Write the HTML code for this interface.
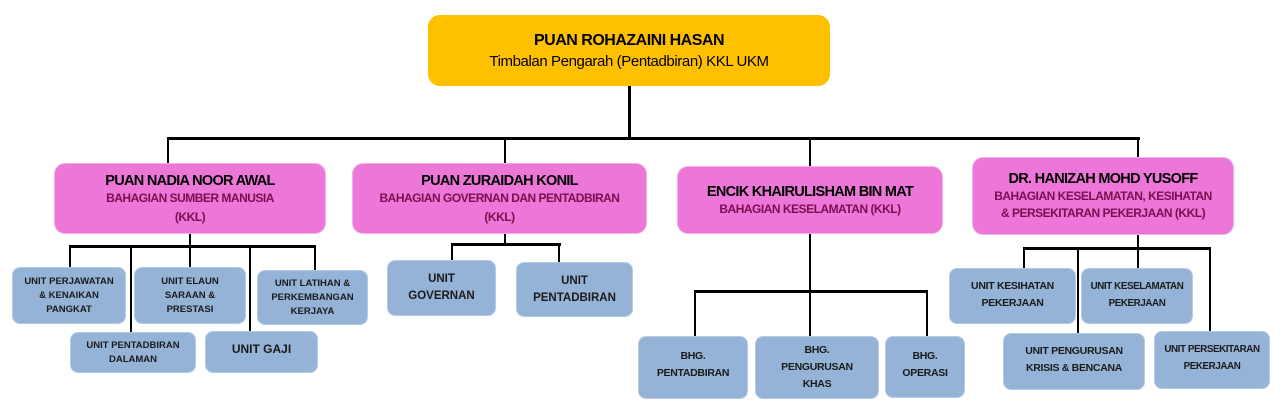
<!DOCTYPE html>
<html><head><meta charset="utf-8"><style>
body{margin:0;width:1282px;height:416px;background:#fff;position:relative;overflow:hidden;font-family:"Liberation Sans",sans-serif}
.b{position:absolute;display:flex;flex-direction:column;align-items:center;justify-content:center;text-align:center;box-sizing:border-box;white-space:nowrap}
.y{background:#FFC000;border-radius:12px}
.p{background:#EC77D8;border-radius:11px;border:1px solid #f3b0e8}
.u{background:#95B3D7;border-radius:8px;border:1px solid #b6cbe4;color:#1a1a1a;font-weight:bold;font-size:9.5px;line-height:14px;letter-spacing:0px}
.t{font-weight:bold;font-size:14.5px;color:#000;letter-spacing:-0.7px;line-height:18px}
.s{font-weight:bold;font-size:12px;color:#7A0E4E;letter-spacing:-0.5px;line-height:17px}
.l{position:absolute;background:#000}
.h{height:3px}
.v{width:2px}
.n{font-size:10.5px!important;letter-spacing:-0.3px!important}
</style></head><body>
<div class="l v" style="left:628px;top:86px;height:54px;width:3px"></div>
<div class="l h" style="left:167px;top:137px;width:973px"></div>
<div class="l v" style="left:167px;top:138px;height:26px"></div>
<div class="l v" style="left:504px;top:138px;height:26px"></div>
<div class="l v" style="left:809px;top:138px;height:29px"></div>
<div class="l v" style="left:1137px;top:138px;height:20px"></div>

<div class="l v" style="left:189px;top:233px;height:14px"></div>
<div class="l h" style="left:69px;top:245px;width:247px"></div>
<div class="l v" style="left:69px;top:246px;height:22px"></div>
<div class="l v" style="left:130px;top:246px;height:88px"></div>
<div class="l v" style="left:189px;top:246px;height:22px"></div>
<div class="l v" style="left:249px;top:246px;height:86px"></div>
<div class="l v" style="left:314px;top:246px;height:26px"></div>

<div class="l v" style="left:504px;top:233px;height:12px"></div>
<div class="l h" style="left:451px;top:243px;width:110px"></div>
<div class="l v" style="left:451px;top:244px;height:18px"></div>
<div class="l v" style="left:558px;top:244px;height:19px"></div>

<div class="l v" style="left:809px;top:233px;height:58px"></div>
<div class="l h" style="left:694px;top:290px;width:234px"></div>
<div class="l v" style="left:694px;top:291px;height:46px"></div>
<div class="l v" style="left:809px;top:291px;height:46px"></div>
<div class="l v" style="left:926px;top:291px;height:46px"></div>

<div class="l v" style="left:1137px;top:235px;height:14px"></div>
<div class="l h" style="left:1023px;top:247px;width:188px"></div>
<div class="l v" style="left:1023px;top:248px;height:21px"></div>
<div class="l v" style="left:1077px;top:248px;height:86px"></div>
<div class="l v" style="left:1137px;top:248px;height:21px"></div>
<div class="l v" style="left:1209px;top:248px;height:83px"></div>

<div class="b y" style="left:428px;top:15px;width:402px;height:71px">
<div style="font-weight:bold;font-size:16px;letter-spacing:-0.5px;line-height:21px">PUAN ROHAZAINI HASAN</div>
<div style="font-size:15px;letter-spacing:-0.4px;line-height:21px">Timbalan Pengarah (Pentadbiran) KKL UKM</div></div>

<div class="b p" style="left:54px;top:163px;width:272px;height:71px"><div class="t">PUAN NADIA NOOR AWAL</div><div class="s">BAHAGIAN SUMBER MANUSIA</div><div class="s" style="margin-top:2px">(KKL)</div></div>
<div class="b p" style="left:352px;top:163px;width:295px;height:71px"><div class="t">PUAN ZURAIDAH KONIL</div><div class="s">BAHAGIAN GOVERNAN DAN PENTADBIRAN</div><div class="s" style="margin-top:2px">(KKL)</div></div>
<div class="b p" style="left:677px;top:166px;width:266px;height:68px"><div class="t">ENCIK KHAIRULISHAM BIN MAT</div><div class="s">BAHAGIAN KESELAMATAN (KKL)</div></div>
<div class="b p" style="left:972px;top:157px;width:262px;height:78px"><div class="t">DR. HANIZAH MOHD YUSOFF</div><div class="s">BAHAGIAN KESELAMATAN, KESIHATAN</div><div class="s">&amp; PERSEKITARAN PEKERJAAN (KKL)</div></div>

<div class="b u" style="left:12px;top:267px;width:114px;height:57px">UNIT PERJAWATAN<br>&amp; KENAIKAN<br>PANGKAT</div>
<div class="b u" style="left:134px;top:267px;width:112px;height:57px">UNIT ELAUN<br>SARAAN &amp;<br>PRESTASI</div>
<div class="b u" style="left:257px;top:270px;width:111px;height:55px">UNIT LATIHAN &amp;<br>PERKEMBANGAN<br>KERJAYA</div>
<div class="b u" style="left:70px;top:332px;width:126px;height:41px">UNIT PENTADBIRAN<br>DALAMAN</div>
<div class="b u" style="left:205px;top:331px;width:113px;height:42px;font-size:12px;justify-content:flex-start;padding-top:10px">UNIT GAJI</div>

<div class="b u" style="left:387px;top:260px;width:109px;height:56px;font-size:11.5px;line-height:17px">UNIT<br>GOVERNAN</div>
<div class="b u" style="left:516px;top:262px;width:117px;height:55px;font-size:11.5px;line-height:17px">UNIT<br>PENTADBIRAN</div>

<div class="b u n" style="left:638px;top:336px;width:110px;height:63px;line-height:17px;justify-content:flex-start;padding-top:11px">BHG.<br>PENTADBIRAN</div>
<div class="b u n" style="left:755px;top:336px;width:124px;height:63px;line-height:17px">BHG.<br>PENGURUSAN<br>KHAS</div>
<div class="b u n" style="left:885px;top:336px;width:80px;height:62px;line-height:17px;justify-content:flex-start;padding-top:11px">BHG.<br>OPERASI</div>

<div class="b u n" style="left:949px;top:268px;width:127px;height:56px;line-height:17px;justify-content:flex-start;padding-top:9px">UNIT KESIHATAN<br>PEKERJAAN</div>
<div class="b u n" style="left:1081px;top:268px;width:112px;height:56px;line-height:17px;justify-content:flex-start;padding-top:9px;font-size:9.8px!important;letter-spacing:-0.4px!important">UNIT KESELAMATAN<br>PEKERJAAN</div>
<div class="b u n" style="left:1003px;top:333px;width:142px;height:57px;line-height:17px;justify-content:flex-start;padding-top:9px">UNIT PENGURUSAN<br>KRISIS &amp; BENCANA</div>
<div class="b u n" style="left:1154px;top:331px;width:116px;height:58px;line-height:17px;justify-content:flex-start;padding-top:9px;font-size:9.8px!important;letter-spacing:-0.4px!important">UNIT PERSEKITARAN<br>PEKERJAAN</div>
</body></html>
